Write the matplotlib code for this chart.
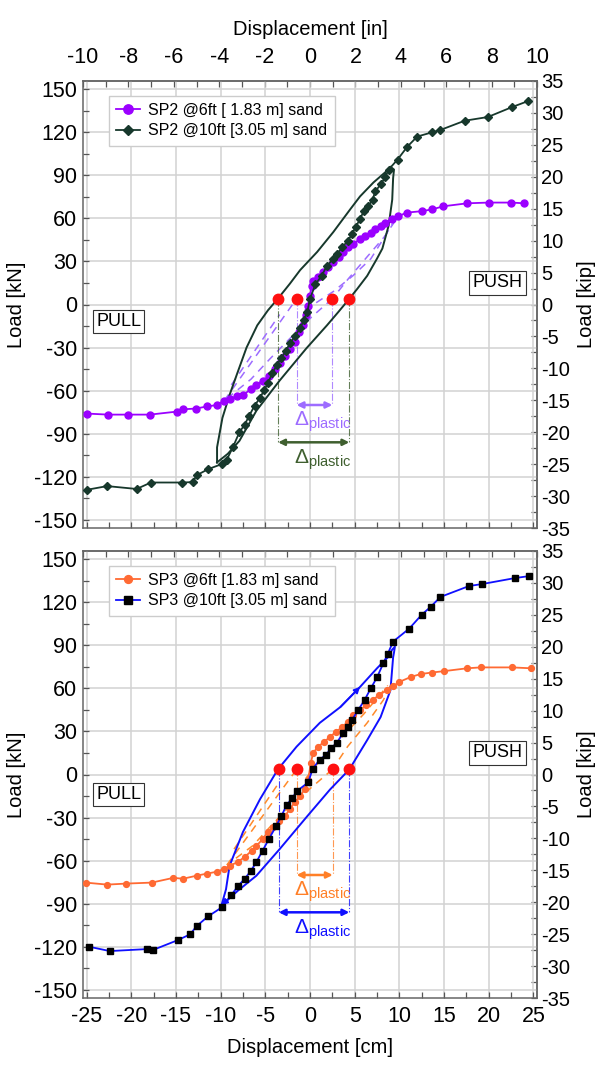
import numpy as np
import matplotlib.pyplot as plt
from matplotlib.ticker import MultipleLocator, NullFormatter

plt.rcParams['font.family'] = ['Liberation Sans', 'DejaVu Sans']
plt.rcParams['mathtext.fontset'] = 'custom'
plt.rcParams['mathtext.rm'] = 'Liberation Sans'
plt.rcParams['mathtext.it'] = 'Liberation Sans:italic'
plt.rcParams['axes.unicode_minus'] = False

KN_PER_KIP = 4.44822
CM_PER_IN = 2.54

# ---- SP2 (top panel) ----
sp2_6_x = [-24.9, -22.6, -20.4, -17.9, -14.9, -14.2, -12.8, -11.5, -10.4, -9.6, -9.0, -8.2,
           -7.5, -6.6, -6.0, -5.3, -4.6, -3.9, -3.4, -2.8, -2.25, -1.7, -1.2, -0.8, -0.45,
           -0.2, 0.0, 0.2, 0.35, 0.9, 1.5, 2.0, 2.6, 3.2, 3.7, 4.3, 4.8, 5.6, 6.2, 6.8, 7.3,
           7.9, 8.4, 9.2, 9.9, 10.8, 12.5, 13.7, 14.9, 17.6, 20.0, 22.5, 24.0]
sp2_6_y = [-76, -76.7, -76.7, -76.7, -74.6, -73, -72.5, -71, -70, -67, -66, -64,
           -63, -59, -56, -53, -50, -45, -41, -36, -31, -26, -19, -14.5, -7.6,
           -0.7, 6, 13, 16.6, 19.4, 22.8, 26, 29.7, 33, 36.6, 40, 42, 45.6, 47.7, 50, 52.5,
           54.6, 57, 59.4, 61.5, 64, 65, 66.3, 68.4, 70.5, 71, 71, 70.5]

sp2_10_x = [-24.9, -22.7, -19.4, -17.8, -14.3, -13.1, -12.7, -11.4, -9.8, -9.3, -8.6, -7.9,
            -7.3, -6.8, -6.2, -5.6, -5.1, -4.7, -4.2, -3.7, -3.2, -2.7, -2.25, -1.7, -1.1,
            -0.7, -0.3, 0.0, 0.6, 1.3, 1.9, 2.6, 3.0, 3.6, 4.2, 4.7, 5.1, 5.6, 6.0, 6.5, 7.0,
            7.3, 7.9, 8.4, 8.8, 9.8, 10.9, 12.0, 13.7, 14.6, 17.3, 19.9, 22.6, 24.4]
sp2_10_y = [-129, -126.5, -128.5, -124, -124, -123.7, -119, -114.7, -111, -108, -99, -89,
            -83.6, -77.4, -70.5, -65, -59.4, -54.6, -47.7, -42, -37, -32.5, -27, -22, -16.6,
            -11, -5, 4, 14, 20, 27, 31.8, 35, 40, 44, 49, 54, 59.4, 65, 68.4, 73,
            78.8, 83.6, 88.5, 94, 101, 110, 117, 120, 121.6, 128, 130.6, 137.5, 141.7]

# cyclic loop of SP2 @10ft (solid line, no markers)
sp2_loop_x = [-10.4, -10.4, -9.8, -9.0, -8.2, -7.1, -5.9, -4.7, -3.6, -2.25, -1.1, 0.8, 2.6,
              4.5, 5.6, 7.1, 8.4, 9.0, 9.4, 9.3, 9.2, 8.8, 8.1, 7.5, 6.4, 5.3, 4.4, 3.2, 1.9,
              -0.4, -3.4, -6.0, -7.9, -9.2, -10.4]
sp2_loop_y = [-110, -99.5, -79, -63, -49, -30, -14.5, -4, 4, 14.5, 24, 36.6, 50.4,
              66.3, 75.3, 85, 92, 96, 94, 88, 73, 55, 39, 32, 20, 11, 4, -5, -14.5,
              -30.5, -53, -74, -95, -104, -110]

# dashed unloading paths of SP2 @6ft
sp2_dash = [
    ([-9.6, -1.5], [-67, 4]),
    ([-8.8, -3.4], [-56, -7]),
    ([2.5, 0.3, -2.3, -4.5, -6.6, -9.6], [4, -8, -24, -38, -52, -67]),
    ([9.5, 8.3, 6.5, 4.3, 2.5], [58, 47, 34, 18, 4]),
    ([-0.6, 2.6, 4.8, 6.8, 8.2, 9.2], [-4, 9, 20, 31.8, 45.6, 56]),
]

sp2_red_x = [-3.57, -1.5, 2.5, 4.4]
sp2_red_y = [4, 4, 4, 4]

# ---- SP3 (bottom panel) ----
sp3_6_x = [-25.1, -22.7, -20.6, -17.7, -15.3, -14.2, -12.7, -11.5, -10.4, -9.6, -9.0, -8.1,
           -7.3, -6.5, -6.0, -5.3, -4.7, -4.1, -3.5, -2.8, -2.25, -1.7, -1.1, -0.6, -0.2,
           0.1, 0.35, 0.9, 1.6, 2.25, 2.9, 3.6, 4.2, 4.8, 5.6, 6.3, 7.0, 7.7, 8.6, 9.3,
           10.0, 11.3, 12.4, 13.6, 15.0, 17.6, 19.1, 22.6, 24.7]
sp3_6_y = [-75.3, -76.7, -76, -75.3, -72, -72.6, -70.5, -69, -67.7, -65.7, -63.6, -61,
           -57.4, -53, -49.8, -45, -40, -36.6, -32.5, -29, -24, -19.4, -15, -10.4, -3.5,
           8.3, 15, 19.4, 22.8, 26.3, 29.7, 33, 36.6, 41.5, 45, 48.4, 51.8, 55.3, 58.7, 61.5,
           64.5, 68, 70, 71, 72, 74, 74.6, 74.6, 74]

sp3_10_x = [-24.7, -22.4, -18.2, -17.6, -14.8, -13.4, -12.7, -11.4, -9.8, -8.8, -8.1, -7.3,
            -6.6, -6.0, -5.3, -4.6, -3.8, -3.2, -2.6, -2.0, -1.5, -0.2, 0.3, 1.1, 1.8, 2.4,
            3.0, 3.7, 4.3, 4.7, 5.4, 6.1, 6.8, 7.5, 8.2, 8.7, 9.3, 11.1, 12.5, 13.5, 14.6,
            17.8, 19.3, 22.9, 24.5]
sp3_10_y = [-120, -123, -121.6, -122.3, -115.4, -111.3, -105.7, -98.8, -92.3, -84, -78, -72.6,
            -67, -61, -53, -45, -36, -29, -21, -16.6, -11.7, -5.5, 4, 10.4, 13.8, 18.7,
            22, 29, 33, 38, 45, 51.8, 60, 67.7, 77.4, 84, 92.6, 101.6, 111.3, 116.8, 123.7,
            131.3, 132.7, 136.8, 138.2]

sp3_loop_x = [-9.9, -9.4, -9.0, -7.5, -5.6, -3.6, -1.5, 1.1, 3.4, 5.6, 7.5, 8.7, 9.2, 9.5,
              9.4, 9.3, 9.0, 7.9, 6.4, 4.4, 2.25, -0.3, -3.4, -6.0, -8.2, -9.9]
sp3_loop_y = [-91, -80, -63.6, -40, -17.3, 3.5, 19.4, 36, 47, 61, 74, 81.6, 87, 89,
              85, 81.6, 58.7, 40, 24, 3.5, -10.4, -29, -52, -70.5, -81.6, -91]

sp3_dash = [
    ([-9.3, -1.5], [-63, 3.5]),
    ([-8.5, -3.4], [-52, -5]),
    ([2.5, 0.35, -2.25, -4.4, -6.4, -9.3], [3.5, -8, -22, -36, -49.6, -63]),
    ([9.0, 8.2, 6.4, 4.2, 2.5], [62, 51.8, 36, 19.4, 3.5]),
    ([-0.5, 0.35, 3.4, 6.0, 8.7], [-3, 4, 25, 42, 62]),
]

sp3_red_x = [-3.5, -1.5, 2.55, 4.4]
sp3_red_y = [3.5, 3.5, 3.5, 3.5]

purple = '#9b00ff'
purple_light = '#9d6cff'
dark_green = '#17382c'
olive = '#3f5f2f'
orange = '#ff6a33'
orange_dash = '#ff8a2a'
blue = '#1010ff'
TICK_FS = 15.5
LABEL_FS = 14.5


def style_axes(ax, show_top, show_bottom):
    ax.set_xlim(-10 * CM_PER_IN, 10 * CM_PER_IN)
    ax.set_ylim(-35 * KN_PER_KIP, 35 * KN_PER_KIP)
    ax.xaxis.set_major_locator(MultipleLocator(5))
    ax.xaxis.set_minor_locator(MultipleLocator(2.5))
    ax.yaxis.set_major_locator(MultipleLocator(30))
    ax.yaxis.set_minor_locator(MultipleLocator(15))
    ax.grid(True, which='major', color='#d2d2d2', lw=1.1, zorder=0)
    ax.tick_params(which='both', direction='in', length=4, width=0.9, color='#555555',
                   labelsize=TICK_FS, top=False, right=False, pad=4)
    if not show_bottom:
        ax.tick_params(axis='x', labelbottom=False)
    ax.set_ylabel('Load [kN]', fontsize=LABEL_FS, labelpad=6)
    for sp in ax.spines.values():
        sp.set_color('#666666')
        sp.set_linewidth(1.1)

    sec_x = ax.secondary_xaxis('top', functions=(lambda v: v / CM_PER_IN,
                                                 lambda v: v * CM_PER_IN))
    sec_x.xaxis.set_major_locator(MultipleLocator(2))
    sec_x.xaxis.set_minor_locator(MultipleLocator(1))
    sec_x.tick_params(which='both', direction='in', length=4, width=0.9, color='#555555',
                      labelsize=TICK_FS, pad=9)
    if show_top:
        sec_x.set_xlabel('Displacement [in]', fontsize=LABEL_FS, labelpad=9)
    else:
        sec_x.xaxis.set_major_formatter(NullFormatter())

    sec_y = ax.secondary_yaxis('right', functions=(lambda v: v / KN_PER_KIP,
                                                   lambda v: v * KN_PER_KIP))
    sec_y.yaxis.set_major_locator(MultipleLocator(5))
    sec_y.yaxis.set_minor_locator(MultipleLocator(2.5))
    sec_y.tick_params(which='both', direction='in', length=4, width=0.9, color='#555555',
                      labelsize=14.5, pad=3)
    sec_y.set_ylabel('Load [kip]', fontsize=LABEL_FS, labelpad=5)
    for sp in list(sec_x.spines.values()) + list(sec_y.spines.values()):
        sp.set_color('#666666')
        sp.set_linewidth(1.1)


def draw_delta(ax, red_x, red_y, inner_col, outer_col, inner_y, outer_y, text_dy):
    # vertical dash-dot guides from the red points
    for i in (0, 3):
        ax.plot([red_x[i], red_x[i]], [red_y[i], outer_y], color=outer_col, lw=0.8,
                ls='-.', alpha=0.8, zorder=2)
    for i in (1, 2):
        ax.plot([red_x[i], red_x[i]], [red_y[i], inner_y], color=inner_col, lw=0.8,
                ls='-.', alpha=0.8, zorder=2)
    ax.annotate('', xy=(red_x[1], inner_y), xytext=(red_x[2], inner_y),
                arrowprops=dict(arrowstyle='<|-|>', color=inner_col, lw=1.8,
                                mutation_scale=9, shrinkA=0, shrinkB=0), zorder=5)
    ax.annotate('', xy=(red_x[0], outer_y), xytext=(red_x[3], outer_y),
                arrowprops=dict(arrowstyle='<|-|>', color=outer_col, lw=1.8,
                                mutation_scale=9, shrinkA=0, shrinkB=0), zorder=5)
    lab = r'$\Delta_{\mathrm{plastic}}$'
    ax.text((red_x[1] + red_x[2]) / 2 + 0.9, inner_y - text_dy, lab, color=inner_col,
            fontsize=15, ha='center', va='center', zorder=6)
    ax.text((red_x[0] + red_x[3]) / 2 + 1.0, outer_y - text_dy, lab, color=outer_col,
            fontsize=15, ha='center', va='center', zorder=6)


def push_pull(ax, y_pull, y_push):
    box = dict(boxstyle='square,pad=0.18', fc='white', ec='#333333', lw=0.8)
    ax.text(-21.4, y_pull, 'PULL', fontsize=13, ha='center', va='center', bbox=box, zorder=6)
    ax.text(21.0, y_push, 'PUSH', fontsize=13, ha='center', va='center', bbox=box, zorder=6)


def add_legend(ax, handles):
    ax.legend(handles=handles, loc='upper left', bbox_to_anchor=(0.04, 0.985), fontsize=11.5,
              frameon=True, fancybox=False, edgecolor='#cccccc', framealpha=1,
              handlelength=1.5, handletextpad=0.5, borderpad=0.45, labelspacing=0.35,
              markerscale=1.35)


fig = plt.figure(figsize=(6.03, 10.72), dpi=100)
ax1 = fig.add_axes([83 / 603, 1 - 528 / 1072, 454 / 603, 447 / 1072])
ax2 = fig.add_axes([83 / 603, 1 - 998 / 1072, 454 / 603, 447 / 1072])

# ---- top panel ----
style_axes(ax1, show_top=True, show_bottom=False)
for dx, dy in sp2_dash:
    ax1.plot(dx, dy, color=purple_light, lw=1.1, ls=(0, (5, 4)), zorder=2)
ax1.plot(sp2_loop_x, sp2_loop_y, color=dark_green, lw=1.4, zorder=3)
l1, = ax1.plot(sp2_6_x, sp2_6_y, color=purple, lw=1.3, marker='o', ms=5,
               mec=purple, label='SP2 @6ft [ 1.83 m] sand', zorder=4)
l2, = ax1.plot(sp2_10_x, sp2_10_y, color=dark_green, lw=1.3, marker='D', ms=3.8,
               mec=dark_green, label='SP2 @10ft [3.05 m] sand', zorder=4)
ax1.plot(sp2_red_x, sp2_red_y, ls='none', marker='o', ms=7.5, color='#ff1010', zorder=7)
draw_delta(ax1, sp2_red_x, sp2_red_y, purple_light, olive, -70, -96, 12)
push_pull(ax1, -12, 15)
add_legend(ax1, [l1, l2])

# ---- bottom panel ----
style_axes(ax2, show_top=False, show_bottom=True)
ax2.set_xlabel('Displacement [cm]', fontsize=LABEL_FS, labelpad=8)
ax2.tick_params(axis='x', pad=6)
for dx, dy in sp3_dash:
    ax2.plot(dx, dy, color=orange_dash, lw=1.1, ls=(0, (5, 4)), zorder=2)
ax2.plot(sp3_loop_x, sp3_loop_y, color=blue, lw=1.4, zorder=3)
for k in (8, len(sp3_loop_x) - 2):
    ax2.annotate('', xy=(sp3_loop_x[k + 1], sp3_loop_y[k + 1]),
                 xytext=(sp3_loop_x[k], sp3_loop_y[k]),
                 arrowprops=dict(arrowstyle='-|>', color=blue, lw=1.2, mutation_scale=9,
                                 shrinkA=0, shrinkB=0), zorder=3)
l3, = ax2.plot(sp3_6_x, sp3_6_y, color=orange, lw=1.3, marker='o', ms=4.2,
               mec=orange, label='SP3 @6ft [1.83 m] sand', zorder=4)
l4, = ax2.plot(sp3_10_x, sp3_10_y, color=blue, lw=1.3, marker='s', ms=4,
               mfc='black', mec='black', label='SP3 @10ft [3.05 m] sand', zorder=4)
ax2.plot(sp3_red_x, sp3_red_y, ls='none', marker='o', ms=7.5, color='#ff1010', zorder=7)
draw_delta(ax2, sp3_red_x, sp3_red_y, '#ff7f27', blue, -70, -96, 12)
push_pull(ax2, -14, 15)
add_legend(ax2, [l3, l4])

fig.savefig('out.png', dpi=100)
